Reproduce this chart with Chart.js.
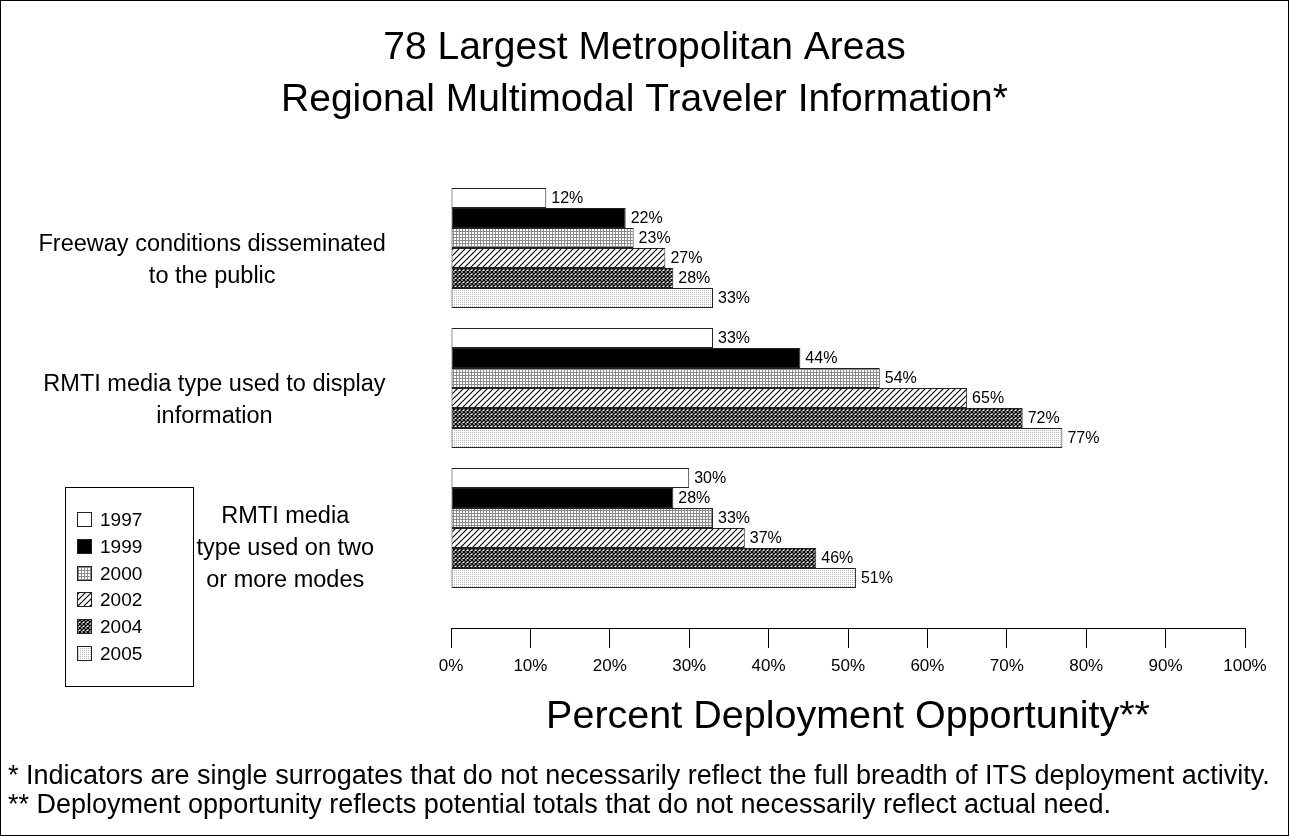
<!DOCTYPE html>
<html>
<head>
<meta charset="utf-8">
<script src="https://cdn.jsdelivr.net/npm/chart.js@4.4.1/dist/chart.umd.min.js"></script>
<style>
  html, body { margin: 0; padding: 0; background: #fff; }
  #wrap { position: relative; width: 1289px; height: 836px; }
</style>
</head>
<body>
<div id="wrap"><canvas id="chart" width="1289" height="836"></canvas></div>
<script>
// --- data ---
const categories = [
    ['Freeway conditions disseminated', 'to the public'],
    ['RMTI media type used to display', 'information'],
    ['RMTI media', 'type used on two', 'or more modes']
];
const years = ['1997', '1999', '2000', '2002', '2004', '2005'];
const v1997 = [12, 33, 30];
const v1999 = [22, 44, 28];
const v2000 = [23, 54, 33];
const v2002 = [27, 65, 37];
const v2004 = [28, 72, 46];
const v2005 = [33, 77, 51];
const xTicks = [0, 10, 20, 30, 40, 50, 60, 70, 80, 90, 100];
const titleLines = ['78 Largest Metropolitan Areas', 'Regional Multimodal Traveler Information*'];
const xTitle = 'Percent Deployment Opportunity**';
const footnotes = [
    '* Indicators are single surrogates that do not necessarily reflect the full breadth of ITS deployment activity.',
    '** Deployment opportunity reflects potential totals that do not necessarily reflect actual need.'
];

const FONT = 'Arial, "Liberation Sans", sans-serif';

// fill patterns, one per year
function makePattern(size, draw) {
    const c = document.createElement('canvas');
    c.width = size; c.height = size;
    const g = c.getContext('2d');
    g.fillStyle = '#fff';
    g.fillRect(0, 0, size, size);
    draw(g, size);
    return document.getElementById('chart').getContext('2d').createPattern(c, 'repeat');
}

const fills = [
    '#ffffff',
    '#000000',
    makePattern(3, (g) => { // fine grid
        g.fillStyle = '#8a8a8a';
        g.fillRect(0, 0, 3, 1);
        g.fillRect(0, 0, 1, 3);
    }),
    makePattern(6, (g, s) => { // diagonal hatch
        g.strokeStyle = '#000';
        g.lineWidth = 1.1;
        g.beginPath();
        g.moveTo(0, s); g.lineTo(s, 0);
        g.moveTo(-s / 2, s / 2); g.lineTo(s / 2, -s / 2);
        g.moveTo(s / 2, s * 1.5); g.lineTo(s * 1.5, s / 2);
        g.stroke();
    }),
    makePattern(4, (g, s) => { // dense crosshatch
        g.strokeStyle = '#000';
        g.lineWidth = 1.4;
        g.beginPath();
        g.moveTo(0, 0); g.lineTo(s, s);
        g.moveTo(0, s); g.lineTo(s, 0);
        g.stroke();
    }),
    makePattern(2, (g) => { // light dots
        g.fillStyle = '#b8b8b8';
        g.fillRect(0, 0, 1, 1);
    })
];

const seriesValues = [v1997, v1999, v2000, v2002, v2004, v2005];

const datasets = years.map((y, i) => ({
    label: y,
    data: seriesValues[i],
    backgroundColor: fills[i],
    borderColor: '#222',
    borderWidth: 1,
    borderSkipped: false,
    categoryPercentage: 0.857,
    barPercentage: 1
}));

// value labels at the end of each bar
const valueLabels = {
    id: 'valueLabels',
    afterDatasetsDraw(chart) {
        const ctx = chart.ctx;
        ctx.save();
        ctx.font = '16px ' + FONT;
        ctx.fillStyle = '#000';
        ctx.textBaseline = 'middle';
        ctx.textAlign = 'left';
        chart.data.datasets.forEach((ds, i) => {
            chart.getDatasetMeta(i).data.forEach((bar, j) => {
                ctx.fillText(ds.data[j] + '%', bar.x + 5, bar.y + 1);
            });
        });
        ctx.restore();
    }
};

// category labels: lines centred on each other, blocks leaning towards the axis
const categoryLabels = {
    id: 'categoryLabels',
    afterDraw(chart) {
        const ctx = chart.ctx;
        const yScale = chart.scales.y;
        const lh = 32;
        ctx.save();
        ctx.font = '23.5px ' + FONT;
        ctx.fillStyle = '#000';
        ctx.textBaseline = 'middle';
        ctx.textAlign = 'center';
        categories.forEach((lines, i) => {
            const widest = Math.max(...lines.map(t => ctx.measureText(t).width));
            const rightAligned = yScale.right - 66 - widest / 2;
            const cx = 0.86 * rightAligned + 0.14 * 218;
            const cy = yScale.getPixelForTick(i) + 8 * lines.length - 3;
            lines.forEach((t, k) => {
                ctx.fillText(t, cx, cy + (k - (lines.length - 1) / 2) * lh);
            });
        });
        ctx.restore();
    }
};

// boxed legend at lower left + footnotes + frame
const extras = {
    id: 'extras',
    afterDraw(chart) {
        const ctx = chart.ctx;
        ctx.save();
        ctx.strokeStyle = '#000';
        ctx.lineWidth = 1;
        ctx.strokeRect(0.5, 0.5, chart.width - 1, chart.height - 1);

        // legend box
        ctx.strokeRect(65.5, 487.5, 128, 199);
        ctx.font = '19px ' + FONT;
        ctx.textBaseline = 'middle';
        ctx.textAlign = 'left';
        chart.data.datasets.forEach((ds, i) => {
            const top = Math.round(512 + i * 26.8);
            ctx.fillStyle = ds.backgroundColor;
            ctx.fillRect(77, top, 15, 15);
            ctx.strokeStyle = '#222';
            ctx.strokeRect(77.5, top + 0.5, 14, 14);
            ctx.fillStyle = '#000';
            ctx.fillText(ds.label, 100, top + 8.5);
        });

        // footnotes
        ctx.font = '27px ' + FONT;
        ctx.fillStyle = '#000';
        footnotes.forEach((t, i) => ctx.fillText(t, 8, 777 + i * 29));
        ctx.restore();
    }
};

new Chart(document.getElementById('chart'), {
    type: 'bar',
    data: { labels: categories, datasets },
    plugins: [valueLabels, categoryLabels, extras],
    options: {
        indexAxis: 'y',
        responsive: false,
        animation: false,
        layout: { padding: { left: 44, right: 44, top: 0, bottom: 88 } },
        plugins: {
            legend: { display: false },
            tooltip: { enabled: false },
            title: {
                display: true,
                text: titleLines,
                color: '#000',
                font: { family: FONT, size: 39, weight: 'normal', lineHeight: 52 / 39 },
                padding: { top: 22, bottom: 52 }
            }
        },
        scales: {
            x: {
                min: 0,
                max: 100,
                afterBuildTicks: (scale) => { scale.ticks = xTicks.map(v => ({ value: v })); },
                afterFit: (scale) => { scale.height = 120; },
                border: { display: true, color: '#000', width: 1 },
                grid: { drawOnChartArea: false, drawTicks: true, tickLength: 20, color: '#000' },
                ticks: {
                    color: '#000',
                    padding: 8,
                    font: { family: FONT, size: 17 },
                    callback: (v) => v + '%'
                },
                title: {
                    display: true,
                    text: xTitle,
                    color: '#000',
                    font: { family: FONT, size: 39.5, lineHeight: 1.2 },
                    padding: { top: 0, bottom: 7 }
                }
            },
            y: {
                // leave a gap between the last group and the x axis line
                afterBuildTicks: (scale) => { scale._valueRange = categories.length + 0.2143; },
                afterFit: (scale) => { scale.width = 407; },
                border: { display: false },
                grid: { display: false, drawTicks: false },
                ticks: { display: false }
            }
        }
    }
});
</script>
</body>
</html>
